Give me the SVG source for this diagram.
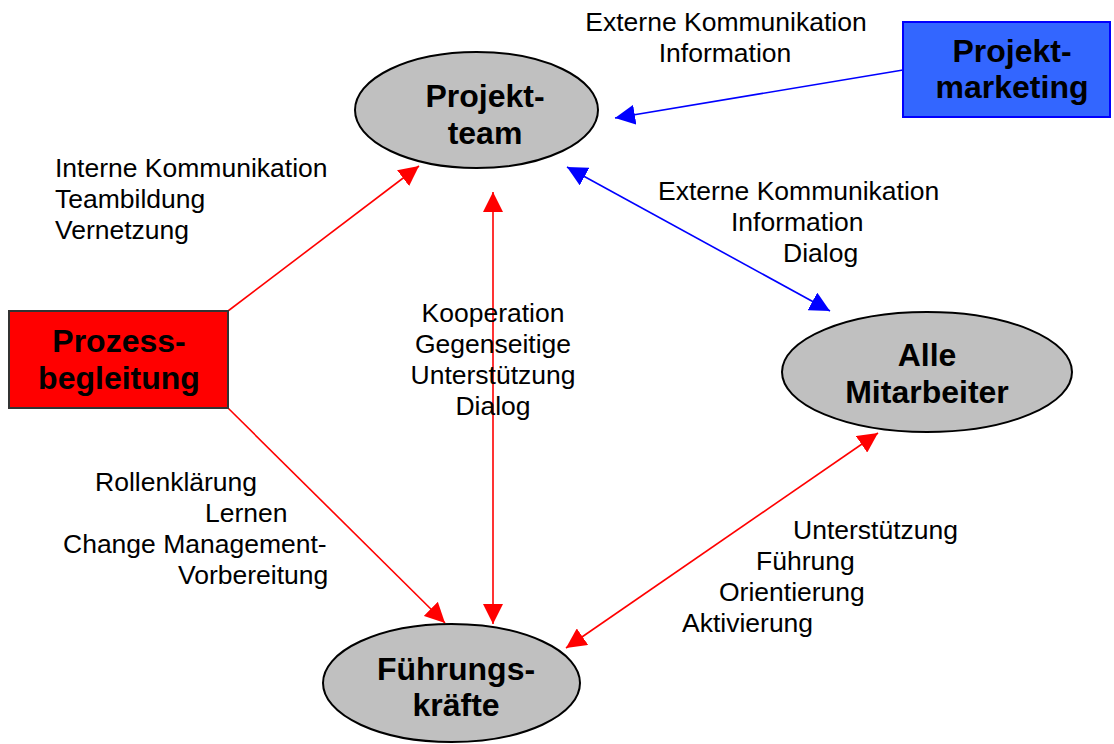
<svg xmlns="http://www.w3.org/2000/svg" width="1114" height="744" viewBox="0 0 1114 744">
<style>
.n{font-family:"Liberation Sans",Arial,sans-serif;font-weight:bold;font-size:32px;fill:#000;text-anchor:middle}
.l{font-family:"Liberation Sans",Arial,sans-serif;font-size:26.5px;fill:#000}
.m{text-anchor:middle}
.el{fill:#c0c0c0;stroke:#000;stroke-width:2}
.red{stroke:#ff0000;stroke-width:1.6;fill:none}
.blue{stroke:#0000ff;stroke-width:1.6;fill:none}
</style>
<defs>
<marker id="ar" markerUnits="userSpaceOnUse" markerWidth="20" markerHeight="20" viewBox="0 0 20 20" refX="20" refY="10" orient="auto-start-reverse"><path d="M0,0 L20,10 L0,20 z" fill="#ff0000"/></marker>
<marker id="ab" markerUnits="userSpaceOnUse" markerWidth="20" markerHeight="20" viewBox="0 0 20 20" refX="20" refY="10" orient="auto-start-reverse"><path d="M0,0 L20,10 L0,20 z" fill="#0000ff"/></marker>
</defs>
<rect width="1114" height="744" fill="#fff"/>
<g id="connectors">
<line class="blue" x1="903" y1="70" x2="615" y2="118" marker-end="url(#ab)"/>
<line class="blue" x1="567" y1="167" x2="830" y2="311" marker-start="url(#ab)" marker-end="url(#ab)"/>
<line class="red" x1="228" y1="311" x2="419" y2="166" marker-end="url(#ar)"/>
<line class="red" x1="228" y1="408" x2="445" y2="623" marker-end="url(#ar)"/>
<line class="red" x1="493" y1="192" x2="493" y2="624" marker-start="url(#ar)" marker-end="url(#ar)"/>
<line class="red" x1="878" y1="433" x2="566" y2="648" marker-start="url(#ar)" marker-end="url(#ar)"/>
</g>
<g id="projektteam">
<ellipse class="el" cx="476.5" cy="110" rx="121.5" ry="58"/>
<text class="n" x="485" y="107">Projekt-</text>
<text class="n" x="485" y="144">team</text>
</g>
<g id="projektmarketing">
<rect x="903" y="22" width="207" height="95" fill="#3366ff" stroke="#0000ff" stroke-width="2"/>
<text class="n" x="1012" y="62">Projekt-</text>
<text class="n" x="1012" y="98">marketing</text>
</g>
<g id="prozessbegleitung">
<rect x="9" y="311" width="219" height="97" fill="#ff0000" stroke="#333" stroke-width="2"/>
<text class="n" x="119" y="352">Prozess-</text>
<text class="n" x="119" y="389">begleitung</text>
</g>
<g id="allemitarbeiter">
<ellipse class="el" cx="927" cy="372" rx="145" ry="60"/>
<text class="n" x="927" y="366">Alle</text>
<text class="n" x="927" y="403">Mitarbeiter</text>
</g>
<g id="fuehrungskraefte">
<ellipse class="el" cx="451.5" cy="683" rx="128.5" ry="59"/>
<text class="n" x="456" y="680">Führungs-</text>
<text class="n" x="456" y="716">kräfte</text>
</g>
<g id="labels">
<text class="l m" x="726" y="31">Externe Kommunikation</text>
<text class="l m" x="725" y="62">Information</text>
<text class="l" x="55" y="177">Interne Kommunikation</text>
<text class="l" x="55" y="208">Teambildung</text>
<text class="l" x="55" y="239">Vernetzung</text>
<text class="l" x="658" y="200">Externe Kommunikation</text>
<text class="l" x="731" y="231">Information</text>
<text class="l" x="783" y="262">Dialog</text>
<text class="l m" x="493" y="322">Kooperation</text>
<text class="l m" x="493" y="353">Gegenseitige</text>
<text class="l m" x="493" y="384">Unterstützung</text>
<text class="l m" x="493" y="415">Dialog</text>
<text class="l" x="95" y="491">Rollenklärung</text>
<text class="l" x="205" y="522">Lernen</text>
<text class="l" x="63" y="553">Change Management-</text>
<text class="l" x="178" y="584">Vorbereitung</text>
<text class="l" x="793" y="539">Unterstützung</text>
<text class="l" x="756" y="570">Führung</text>
<text class="l" x="719" y="601">Orientierung</text>
<text class="l" x="682" y="632">Aktivierung</text>
</g>
</svg>
